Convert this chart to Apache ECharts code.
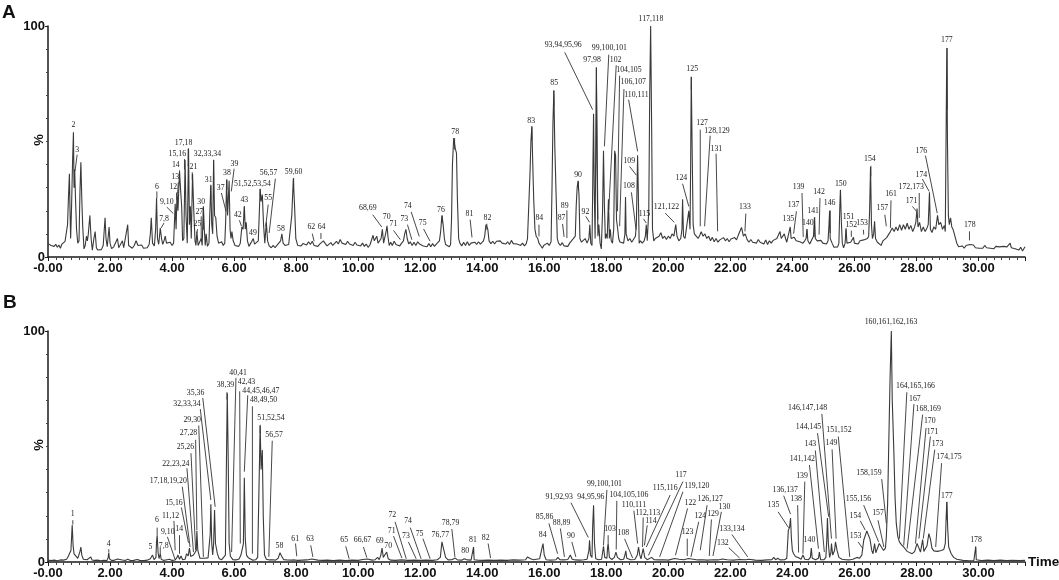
<!DOCTYPE html>
<html><head><meta charset="utf-8">
<script src="https://cdn.jsdelivr.net/npm/echarts@6/dist/echarts.min.js"></script>
<style>html,body{margin:0;padding:0;background:#fff}#c{width:1059px;height:580px}</style>
</head><body><div id="c"></div>
<script>
const traceA1=[[0,5.8],[.05,6.4],[.1,5],[.15,5.8],[.2,4.6],[.25,5.5],[.3,4.2],[.35,5.2],[.4,3.8],[.45,5.6],[.5,5],[.55,6.8],[.6,6],[.63,14],[.66,26],[.69,36],[.71,20],[.73,8],[.76,22],[.79,40],[.82,54],[.84,30],[.86,38],[.89,24],[.92,12],[.96,6],[1,7],[1.03,28],[1.06,41],[1.09,25],[1.12,13],[1.16,3.5],[1.2,5],[1.24,9],[1.27,7],[1.3,10],[1.35,18],[1.39,8],[1.43,3],[1.48,8],[1.52,11],[1.56,4],[1.6,3],[1.66,3.8],[1.72,3.2],[1.78,5],[1.84,17],[1.87,8],[1.91,4.5],[1.97,13],[2,6],[2.05,3.6],[2.12,4.4],[2.18,4],[2.24,8],[2.28,4],[2.34,3.6],[2.4,7],[2.44,4],[2.5,4.4],[2.57,14],[2.6,5],[2.66,4.8],[2.72,3.8],[2.78,5],[2.84,7],[2.9,5],[2.96,4.6],[3.02,5.2],[3.08,3.8],[3.14,4.4],[3.2,4],[3.26,5.4],[3.3,10],[3.33,17],[3.37,6],[3.43,4.8],[3.47,12],[3.5,25.5],[3.53,8],[3.57,5.5],[3.62,12.5],[3.66,8],[3.7,5.5],[3.74,7],[3.78,9],[3.82,6],[3.88,5.4],[3.94,6.4],[4,5]];
const traceA2=[[4.05,6],[4.08,16],[4.1,23],[4.13,12],[4.16,28],[4.19,20],[4.24,37],[4.28,28],[4.31,22],[4.34,7],[4.38,8],[4.42,42],[4.45,18],[4.49,6],[4.53,47],[4.56,14],[4.59,22],[4.62,8],[4.66,36],[4.7,20],[4.74,7],[4.77,5],[4.8,11],[4.84,5],[4.88,5.4],[4.94,8],[4.97,5],[5.01,22],[5.04,12],[5.07,5],[5.1,10],[5.14,4.6],[5.19,6],[5.22,20],[5.25,31],[5.28,14],[5.31,10],[5.34,42],[5.37,18],[5.41,17],[5.45,9],[5.5,6],[5.55,5.4],[5.6,6.6],[5.65,5],[5.7,6],[5.73,16],[5.76,33.5],[5.79,18],[5.84,33],[5.87,12],[5.9,8],[5.93,11],[5.97,7],[6.03,5],[6.09,5.6],[6.15,4.6],[6.2,6],[6.25,13],[6.29,12],[6.33,22],[6.36,12],[6.39,15],[6.43,7],[6.48,4.6],[6.54,5.4],[6.62,8],[6.66,5.6],[6.72,6],[6.78,7],[6.81,18],[6.84,29.5],[6.87,24],[6.91,27],[6.95,14],[6.99,6],[7.04,15],[7.08,7],[7.13,4.8],[7.2,4],[7.26,5],[7.32,4],[7.38,5],[7.44,4.6],[7.5,7],[7.54,10],[7.58,6],[7.64,5],[7.7,4.6],[7.76,5.4],[7.82,5],[7.86,18],[7.91,34],[7.95,22],[7.99,8],[8.05,5]];
const traceA3=[[8.1,5.6],[8.16,4.8],[8.22,5.8],[8.28,6.4],[8.34,5.2],[8.4,6.6],[8.46,5.4],[8.52,6.8],[8.58,5],[8.64,5.8],[8.7,4.6],[8.76,5.6],[8.82,5],[8.88,7],[8.94,5.8],[9,4.8],[9.06,5.6],[9.12,6.2],[9.18,5],[9.24,5.8],[9.3,6.8],[9.36,5.6],[9.42,7.6],[9.48,6],[9.54,6.6],[9.6,5.4],[9.66,6.8],[9.72,5.6],[9.78,6.2],[9.84,5],[9.9,6.4],[9.96,5.2],[10.02,5.8],[10.08,4.8],[10.14,6],[10.2,4.6],[10.26,5.6],[10.32,4.2],[10.38,5.2],[10.44,4.6],[10.48,9.4],[10.52,7],[10.56,7.6],[10.6,9],[10.64,6],[10.7,5.6],[10.74,8],[10.78,12],[10.82,6],[10.86,5.6],[10.9,11],[10.93,13.5],[10.96,9],[11,5],[11.05,6.4],[11.1,5],[11.16,6.8],[11.22,5.4],[11.28,6.2],[11.34,4.8],[11.4,6],[11.46,7],[11.5,10],[11.54,12],[11.58,8],[11.63,5.6],[11.68,6.6],[11.74,5],[11.8,6.4],[11.86,5],[11.92,6.6],[11.98,5.6],[12.04,6.2],[12.1,4.8],[12.16,5.6],[12.22,4.4],[12.28,5.8],[12.34,4.4],[12.4,5.8],[12.46,4.6],[12.52,5.6],[12.58,5],[12.62,7],[12.66,11],[12.7,18],[12.74,14],[12.78,8],[12.82,5.4],[12.88,5],[12.94,4.4],[12.98,5.4],[13.01,16],[13.04,40],[13.08,51.5],[13.13,47],[13.17,45],[13.2,25],[13.24,8],[13.28,6]];
const traceA4=[[13.34,4.8],[13.4,6.4],[13.46,5],[13.52,6.6],[13.58,5],[13.64,6],[13.7,5.2],[13.76,6.4],[13.82,5.4],[13.88,6.6],[13.94,5.6],[14,6.2],[14.04,7],[14.08,9],[14.12,14],[14.15,14.4],[14.18,12],[14.22,7],[14.28,5.8],[14.34,6.8],[14.4,5.6],[14.46,6.8],[14.52,6],[14.58,7],[14.64,6],[14.7,6.8],[14.76,5.6],[14.82,6.6],[14.88,5.4],[14.94,7.2],[15,5.8],[15.06,6.6],[15.12,5.6],[15.18,6.2],[15.24,5],[15.3,6],[15.36,4.8],[15.42,5.8],[15.46,8],[15.5,22],[15.54,36],[15.57,50],[15.6,56.5],[15.63,40],[15.66,25],[15.7,12],[15.74,9],[15.79,8],[15.83,6],[15.88,5],[15.94,3.8],[15.98,5],[16.04,4.4],[16.1,6],[16.16,5],[16.22,6.6],[16.25,30],[16.28,58],[16.31,72],[16.34,48],[16.38,28],[16.42,8],[16.46,6],[16.52,5],[16.58,6.2],[16.64,4.8],[16.7,5.6],[16.76,4.6],[16.82,6],[16.88,7],[16.94,6.4],[17,9],[17.03,22],[17.06,30],[17.09,33],[17.12,27],[17.15,8],[17.2,6.4],[17.26,6],[17.32,8],[17.38,6],[17.44,8],[17.47,14],[17.5,6]];
const traceA5=[[17.54,5],[17.57,40],[17.59,62],[17.61,30],[17.64,8],[17.66,50],[17.68,82],[17.7,40],[17.73,9],[17.76,14],[17.8,6],[17.84,3.5],[17.88,20],[17.91,46],[17.94,22],[17.97,8],[18,10],[18.03,8],[18.07,25],[18.1,8],[18.13,12],[18.16,7],[18.2,6],[18.24,12],[18.27,46],[18.3,44],[18.33,16],[18.36,13],[18.4,8],[18.44,6.5],[18.5,7],[18.56,6],[18.6,10],[18.62,26],[18.64,10],[18.7,7],[18.76,8],[18.82,6.4],[18.88,7],[18.94,9],[18.97,14],[19.01,44],[19.03,30],[19.06,6],[19.1,7],[19.16,6],[19.22,7],[19.26,9],[19.29,14],[19.32,7],[19.34,7],[19.37,20],[19.4,70],[19.43,100],[19.46,60],[19.49,12],[19.53,7],[19.58,8],[19.64,7.5],[19.7,9],[19.76,10.5],[19.82,8],[19.88,9],[19.94,7.6],[20,9],[20.06,8],[20.12,10],[20.18,9],[20.24,14],[20.28,9],[20.34,7],[20.4,8],[20.44,12],[20.46,25],[20.49,9],[20.54,8],[20.6,8],[20.66,20],[20.7,12],[20.72,40],[20.74,78],[20.77,45],[20.8,14],[20.84,10],[20.9,9],[20.96,8],[21.02,9.5],[21.06,11]];
const traceA6=[[21.12,9],[21.18,10],[21.24,8],[21.3,9],[21.36,7],[21.42,8.5],[21.48,6.6],[21.54,8],[21.6,6.4],[21.66,7.4],[21.72,6.6],[21.78,8.4],[21.84,7],[21.9,8],[21.96,6.6],[22.02,7.8],[22.08,7],[22.14,8.4],[22.2,7.4],[22.26,9.6],[22.32,9],[22.36,12.8],[22.42,9],[22.48,10],[22.54,7.5],[22.6,6.4],[22.66,7.6],[22.72,6.4],[22.78,7.2],[22.84,6],[22.9,7.6],[22.96,6.4],[23.02,7],[23.08,5.6],[23.14,7.4],[23.2,5.4],[23.26,7],[23.32,6],[23.38,7.2],[23.44,6.8],[23.5,8],[23.56,7.4],[23.6,11],[23.64,8],[23.7,7.6],[23.74,10],[23.78,8],[23.82,6.4],[23.86,6],[23.93,13],[23.96,8],[24,7.8],[24.06,8.6],[24.12,7],[24.18,7.6],[24.24,6.6],[24.3,7.2],[24.34,6],[24.4,7],[24.44,8],[24.47,12],[24.5,7],[24.56,5.6],[24.62,6.4],[24.68,9],[24.71,17],[24.74,8],[24.8,7],[24.86,6.4],[24.92,7.2],[24.98,6],[25.04,6.6],[25.1,5.6]];
const traceA7=[[25.15,7],[25.18,14],[25.2,20],[25.22,8],[25.28,6],[25.34,4.2],[25.4,5],[25.46,4.4],[25.5,6],[25.53,22],[25.55,29],[25.58,15],[25.61,6],[25.65,4],[25.7,6],[25.73,12],[25.76,6],[25.82,5.2],[25.88,6.4],[25.94,7],[25.97,8.5],[26,6],[26.06,6.6],[26.12,5.6],[26.18,7],[26.24,6.4],[26.3,7.4],[26.36,7],[26.42,8],[26.46,9],[26.49,20],[26.52,39],[26.55,14],[26.58,8],[26.62,10],[26.65,15.5],[26.68,8],[26.74,6.4],[26.8,7],[26.86,5],[26.92,7],[26.98,7.6],[27.04,8.4],[27.1,9],[27.16,11],[27.22,12.6],[27.28,11],[27.34,13],[27.4,11.4],[27.46,14],[27.52,11.6],[27.58,14],[27.64,12],[27.7,14.6],[27.76,12],[27.82,13.6],[27.88,11],[27.94,13],[27.98,15],[28.02,21],[28.05,13],[28.1,15],[28.16,11],[28.22,13],[28.28,11],[28.34,12.6],[28.38,14],[28.42,28],[28.45,12],[28.5,10.6],[28.56,13],[28.62,12],[28.68,18],[28.72,14],[28.78,15],[28.84,12],[28.9,13.6],[28.93,11],[28.96,60],[28.98,90.5],[29,50],[29.03,18],[29.06,14],[29.1,17],[29.14,13],[29.18,12],[29.24,9],[29.3,6],[29.36,4.4],[29.42,3.6],[29.48,4.8],[29.54,3.8],[29.6,5],[29.66,4.4],[29.72,5.4],[29.78,4.6],[29.84,5.2],[29.9,4],[29.96,4.8],[30.02,3.8],[30.08,4.6],[30.14,3.8],[30.2,5],[30.26,4],[30.32,4.8],[30.38,3.8],[30.44,4.6],[30.5,3.6],[30.56,4.6],[30.62,3.8],[30.68,4.4],[30.74,3.6],[30.8,4.6],[30.86,3.8],[30.92,4.4],[30.98,3.6],[31.02,6],[31.06,4],[31.12,4.6],[31.18,3.6],[31.24,4.4],[31.3,3],[31.36,4.2],[31.42,2.6],[31.5,4.4]];
const traceB1=[[0,.8],[.1,.6],[.2,.8],[.3,.5],[.4,.9],[.5,.8],[.6,1.2],[.65,2.4],[.68,3],[.71,2],[.74,5],[.78,16],[.81,7],[.84,3.5],[.9,3],[.96,1.6],[1,2],[1.03,4.5],[1.06,6.5],[1.09,3],[1.14,1.2],[1.2,1.6],[1.26,1],[1.32,1.4],[1.38,2.2],[1.42,.9],[1.5,.7],[1.6,.8],[1.7,.5],[1.8,.7],[1.9,.6],[1.94,2],[1.96,4],[1.98,1.4],[2.06,.6],[2.14,.8],[2.24,1.3],[2.3,.7],[2.4,.9],[2.5,.7],[2.57,1.2],[2.66,.6],[2.76,.7],[2.88,1.1],[2.96,.7],[3.02,1.1],[3.1,.6],[3.2,.8],[3.3,1.4],[3.37,3],[3.42,1],[3.48,2],[3.5,9],[3.52,11.6],[3.55,4],[3.58,1.5],[3.62,3.6],[3.65,1.2],[3.72,.7],[3.8,.9],[3.92,1.2],[4,.7]];
const traceB2=[[4.1,.9],[4.16,2],[4.19,3],[4.24,1.2],[4.29,2.6],[4.34,1],[4.42,1.2],[4.47,3.6],[4.52,2.6],[4.56,6],[4.6,2.4],[4.66,2],[4.69,3],[4.74,2.2],[4.78,5],[4.8,13.5],[4.83,5],[4.87,5],[4.9,1.6],[4.96,1.2],[5.02,1.6],[5.08,1.1],[5.16,1.8],[5.2,1.6],[5.23,12],[5.25,25],[5.28,8],[5.31,3],[5.34,8],[5.37,22.5],[5.4,8],[5.46,3.6],[5.52,1.4],[5.6,1],[5.66,1],[5.72,3],[5.75,40],[5.78,73],[5.81,45],[5.84,8],[5.88,2.5],[5.96,1],[6.06,.9],[6.16,1.3],[6.22,3],[6.27,6],[6.3,8],[6.33,36.5],[6.36,10],[6.4,3],[6.46,1.8],[6.52,1],[6.6,.8],[6.7,1],[6.76,2],[6.8,30],[6.84,59],[6.87,40],[6.91,48.5],[6.94,20],[6.98,3],[7.04,1.2],[7.14,.9],[7.24,1],[7.34,.8],[7.42,1.6],[7.48,4],[7.53,2.6],[7.6,1],[7.7,.9],[7.75,1.4],[7.85,.8],[7.95,.9],[8.05,.7]];
const traceB3=[[8.2,.8],[8.35,.9],[8.5,1.3],[8.56,1.4],[8.7,.8],[8.85,.7],[9,.8],[9.2,.6],[9.4,.8],[9.6,.6],[9.8,.8],[10,.7],[10.15,1.1],[10.3,1.3],[10.45,.8],[10.55,1],[10.63,2],[10.68,1],[10.73,3],[10.77,6],[10.81,2],[10.86,1.4],[10.92,4.3],[10.97,1.4],[11.05,.8],[11.2,.7],[11.4,.9],[11.6,.7],[11.8,.8],[12,.7],[12.2,.8],[12.4,.7],[12.55,1],[12.65,2],[12.7,8.7],[12.76,8],[12.82,2],[12.9,.9],[13.02,1],[13.13,1.7],[13.2,.9],[13.35,.8],[13.42,1.4],[13.46,2],[13.52,.9],[13.64,.8],[13.7,1.6],[13.72,6.5],[13.74,1],[13.85,.8],[14,.7],[14.2,.8],[14.4,.7],[14.6,.8],[14.8,.7],[15,.9],[15.2,.8],[15.4,1],[15.46,2.2],[15.5,3],[15.56,1.4],[15.65,1],[15.75,1.2],[15.85,1.4],[15.91,5],[15.96,8],[16,3],[16.06,1],[16.2,.8],[16.38,1],[16.44,2],[16.5,1],[16.62,.9],[16.76,1.1],[16.84,3],[16.9,1.2],[17,.9],[17.14,.8],[17.28,1],[17.38,1.2],[17.44,5],[17.46,9.4],[17.49,3],[17.54,2],[17.56,15],[17.59,24.6],[17.62,8],[17.66,1.4],[17.75,1],[17.85,1.2],[17.88,4],[17.91,6.8],[17.95,2],[18.02,1.6],[18.04,6],[18.06,8],[18.1,2],[18.18,1.1],[18.26,2],[18.31,4.3],[18.36,2],[18.46,1],[18.56,1.2],[18.6,3],[18.63,4.8],[18.66,1.6],[18.78,1],[18.92,1.1],[19,3],[19.04,6.5],[19.08,3],[19.12,1.4],[19.16,4],[19.19,5.8],[19.24,2],[19.32,1],[19.46,2],[19.54,1],[19.7,.9],[19.85,1]];
const traceB4=[[20,.8],[20.2,1.5],[20.35,1.2],[20.5,1],[20.65,1.5],[20.8,1.2],[20.95,.9],[21.1,1],[21.25,.8],[21.45,1],[21.6,.9],[21.75,1.3],[21.9,1],[22.1,.8],[22.3,1.1],[22.5,1],[22.6,1.2],[22.8,.8],[23,.7],[23.2,.9],[23.34,1],[23.4,2],[23.46,1],[23.53,1.6],[23.6,.9],[23.75,1],[23.82,1.6],[23.87,13.8],[23.91,15],[23.94,19],[23.97,10],[24,5],[24.04,3.6],[24.1,2.4],[24.2,1.8],[24.28,1.2],[24.34,3],[24.4,1.2],[24.52,1],[24.58,2],[24.61,6],[24.64,1.6],[24.75,1],[24.84,1.6],[24.87,4.3],[24.91,1],[25.02,1],[25.08,2],[25.11,10],[25.13,19],[25.16,8],[25.2,2],[25.24,4],[25.26,8],[25.3,3],[25.36,5],[25.39,8.7],[25.44,5],[25.5,2],[25.6,1.2],[25.72,1],[25.82,.9],[25.95,1.2]];
const traceB5=[[26.08,2],[26.16,1.6],[26.24,3],[26.3,9.4],[26.34,9],[26.4,13.5],[26.44,12],[26.5,10],[26.56,5],[26.6,3.6],[26.65,8],[26.69,4],[26.73,3.6],[26.8,8],[26.86,7.2],[26.94,5],[27,6],[27.03,11],[27.07,25],[27.1,45.6],[27.15,80],[27.19,100],[27.22,70],[27.27,48.5],[27.31,28],[27.35,16.7],[27.4,11],[27.45,8.7],[27.52,7.4],[27.59,6.5],[27.7,4.6],[27.86,3.6],[27.94,4.5],[28.02,8],[28.08,6],[28.13,4.3],[28.17,5],[28.2,9.7],[28.24,4.6],[28.29,4],[28.34,7],[28.4,12.3],[28.45,10],[28.5,6],[28.56,4.8],[28.68,4.6],[28.8,5],[28.88,5.4],[28.93,8],[28.96,20],[28.98,26],[29.01,14],[29.04,6.5],[29.12,3.6],[29.2,2],[29.3,1.2],[29.5,.7],[29.7,.5],[29.85,.6],[29.89,1],[29.91,6.5],[29.93,1],[30.1,.6],[30.3,.8],[30.5,.6],[30.7,.8],[30.9,.6],[31.1,.7],[31.3,.6],[31.5,.7]];
// label, text time, text %, leader start time, start %, leader end time, end %
const labelsA1=[["2",.82,57.3],["3",.94,46.2,.94,44.3,.87,37.1],["6",3.51,30.2,3.51,28.4,3.51,25.5],["7,8",3.74,16.6,3.74,14.7,3.65,12.6],["9,10",3.83,23.7,3.83,21.6,4.04,18.8],["12",4.04,30.2,4.15,27.7,4.15,24.8],["13",4.1,34.5,4.2,32.3,4.18,27.7],["14",4.12,40,4.24,37.5,4.24,34.9],["15,16",4.17,44.6,4.4,42.4,4.4,37.8],["17,18",4.37,49.5,4.52,46.9,4.52,39.2],["21",4.69,39.2,4.65,36.7,4.65,33.5],["25",4.82,14.3,4.82,12.1,4.8,10.4],["27",4.88,19.5,4.94,17.6,4.94,7.5],["30",4.94,23.7,5.01,21.6,5.01,11.8],["31",5.18,33.5,5.25,31.3,5.25,24.8],["32,33,34",5.14,44.7,5.34,42.1,5.34,33.5],["37",5.57,29.7,5.59,27.7,5.74,19.8],["38",5.77,36.2,5.77,33.5,5.77,29.1],["39",6.01,40.4,6,38.2,5.91,28.4],["43",6.33,24.5,6.33,21.9,6.33,17.6],["42",6.12,18.2,6.17,15.9,6.24,13.3],["49",6.61,10.5],["51,52,53,54",6.59,31.5,6.84,29.4,6.84,26.3],["56,57",7.11,36.2,7.33,33.9,7.13,10.4],["55",7.1,25.4,7.1,22.7,7.02,13.3],["58",7.51,12],["59,60",7.92,36.8,7.92,34.2,7.92,30.6],["62",8.49,12.8,8.52,10.1,8.58,6.8],["64",8.82,13.1,8.8,10.4,8.8,7.8]];
const labelsA2=[["68,69",10.31,21.4,10.47,18.3,10.76,13],["70",10.92,17.3],["71",11.14,14.1,11.14,11.5,11.36,7.5],["73",11.49,16.6,11.59,14,11.73,7.5],["74",11.6,21.9,11.71,19.5,11.97,8.9],["75",12.08,14.7,12.11,12.1,12.32,6.8],["76",12.67,20.5,12.71,17.9,12.71,14.7],["78",13.13,54.3,13.11,51.5,13.11,46.5],["81",13.59,18.8,13.61,16.2,13.67,8.5],["82",14.17,16.9,14.15,14.4,14.15,11.8],["83",15.58,59,15.6,56.6,15.6,50.8],["84",15.84,17,15.83,14,15.83,8.9],["85",16.32,75.3,16.31,72.2,16.31,65.2],["87",16.56,17,16.59,14.3,16.64,8.7],["89",16.66,22.2,16.73,20.2,16.73,8.2],["90",17.09,35.6,17.1,32.8,17.1,29.1],["92",17.33,19.5,17.34,17.6,17.46,15],["93,94,95,96",16.61,91.9,16.66,88.6,17.56,63.8],["97,98",17.54,85.4,17.68,82.1,17.73,16.2],["99,100,101",18.1,90.3,18.08,87.6,17.94,47.9],["102",18.3,85.4,18.32,83,18.08,20.5],["104,105",18.73,81.1,18.43,78.5,18.36,19.8],["106,107",18.87,75.6,18.57,72.7,18.43,13.3],["110,111",18.97,70.1,18.72,68.1,19.01,45.7],["109",18.74,41.6,18.75,39.2,18.97,35.4],["108",18.73,30.6,18.81,28,18.96,11.8],["115",19.23,18.8,19.2,16.5,19.29,14.7],["117,118",19.44,103.2],["125",20.77,81.2,20.74,77.9,20.74,72.4],["124",20.42,34.3,20.46,31.7,20.66,21.9],["121,122",19.94,21.8,19.9,19,20.19,15]];
const labelsA3=[["127",21.09,57.9,21.03,55.1,21.03,13.3],["128,129",21.57,54.5,21.35,52.5,21.17,13.3],["131",21.55,46.9,21.54,44.7,21.59,11.1],["133",22.47,21.5,22.5,18.8,22.47,11.1],["135",23.87,16.3],["137",24.04,22.7,24.13,19.8,24.04,10.1],["139",24.2,30.2,24.31,27.7,24.35,8.7],["140",24.5,14.7,24.47,12.1,24.47,8.2],["141",24.67,19.8,24.72,17.3,24.72,8.7],["142",24.86,28,24.89,25.5,24.86,9.7],["146",25.2,23.4,25.22,20.2,25.22,10.4],["150",25.56,31.7,25.55,29.1,25.55,24.8],["151",25.81,17.2,25.73,12.6,25.73,8.7],["152",25.9,13.7,25.9,11.4,25.9,8.7],["153",26.25,14.6,26.29,11.8,26.3,9.7],["154",26.5,42.6,26.53,39.5,26.53,34.9],["157",26.9,21.4,26.98,18.3,27.03,13.3],["161",27.18,27.4,27.18,24.5,27.16,12.6],["171",27.84,24.2,27.87,21.9,28,19.8],["172,173",27.83,30.4,28.09,27.7,28.09,16.9],["174",28.16,35.6,28.19,33.8,28.41,28.4],["176",28.16,46,28.29,43.9,28.67,19],["177",28.98,93.8,28.99,90.5,28.99,63.8],["178",29.72,13.9,29.71,11.1,29.71,7.2]];
const labelsB1=[["1",.8,20.9,.8,18.1,.8,16.2],["4",1.96,7.7,1.96,5.5,1.96,4.1],["5",3.3,6.4],["6",3.51,18.3,3.52,14.9,3.52,11.6],["7,8",3.73,7,3.62,6.2,3.62,3.6],["9,10",3.86,13.2,3.85,10.9,4.1,1],["11,12",3.95,20.1,4.06,17.8,4.1,5.1],["14",4.23,14.2,4.24,11.6,4.24,3.6],["15,16",4.06,25.4,4.3,23.6,4.53,8.3],["17,18,19,20",3.88,35.2,4.33,32.6,4.58,6.5],["22,23,24",4.12,42.6,4.48,40.6,4.69,4.3],["25,26",4.43,49.6,4.61,47.1,4.76,5.1],["27,28",4.53,55.9,4.76,52.9,4.8,13.8],["29,30",4.65,61.3,4.86,59.1,5.01,2.2],["32,33,34",4.48,68.6,4.91,66.2,5.25,26.8],["35,36",4.76,73.3,4.99,71,5.39,23.9],["38,39",5.72,76.5,5.77,73.5,5.77,70.3],["40,41",6.13,82,6.06,79.7,5.92,4.3],["42,43",6.4,77.8,6.18,73.9,6.2,8],["44,45,46,47",6.86,74.2,6.44,72.2,6.33,39.1],["48,49,50",6.95,70,6.59,67.4,6.59,3.6],["51,52,54",7.19,62.3,6.84,59.4,6.84,55.8],["56,57",7.29,55.1,7.23,52.5,7.12,2.2],["58",7.46,7],["61",7.97,9.9,7.98,8,8.02,2.5],["63",8.45,9.9,8.47,7.2,8.54,2.2],["65",9.55,9.4,9.6,6.8,9.71,1.4]];
const labelsB2=[["66,67",10.14,9.4,10.17,6.5,10.28,1.9],["69",10.7,9],["70",10.97,6.8],["71",11.08,13.3,11.14,11.2,11.41,1.7],["72",11.1,20.3,11.19,17.4,11.55,1.4],["73",11.54,11.2,11.62,8.7,11.87,1.4],["74",11.61,17.7,11.68,14.9,12.03,1.4],["75",11.98,12.2,12.09,10.1,12.32,1.4],["76,77",12.65,11.9],["78,79",12.98,16.7,13.02,14.3,13.12,2.2],["80",13.45,4.6],["81",13.7,9.4,13.72,6.5,13.72,3.6],["82",14.11,10.3,14.19,8,14.27,1.7],["84",15.95,11.6],["85,86",16.01,19.6,16.15,16.7,16.43,3.6],["88,89",16.56,17.1,16.52,14.5,16.65,2.2],["90",16.86,11.2,16.89,8.7,17.02,2.2],["91,92,93",16.48,28.3,16.86,25.7,17.42,10.6],["94,95,96",17.5,28.3],["99,100,101",17.94,33.9,18.02,31.2,17.91,7.2],["103",18.12,14.1,18.06,11.6,18.06,8],["104,105,106",18.73,29.1,18.34,26.5,18.32,5.4],["108",18.55,12.5,18.59,10,18.85,1.7],["110,111",18.89,24.8,18.89,22.2,19.01,8],["112,113",19.34,21.3,19.19,19.3,19.17,6.5],["114",19.44,17.8,19.32,15.9,19.23,7.2],["115,116",19.9,31.9,20.06,29,19.29,6.5],["117",20.41,37.5,20.47,34.8,19.36,2.9],["119,120",20.92,32.9,20.47,30.4,19.72,2.2],["122",20.71,25.7,20.62,23.2,20.23,2.9],["123",20.62,13,20.61,10.1,20.61,2.6],["124",21.03,20.1,20.98,17.4,20.73,2.2]];
const labelsB3=[["126,127",21.35,27.1,21.25,24.6,21.03,5.1],["129",21.44,21,21.39,18.4,21.32,2.6],["130",21.81,23.9,21.71,21.7,21.44,2.6],["133,134",22.05,14.2,22.05,11.9,22.56,2.2],["132",21.76,8.4,21.95,6.2,22.3,1.7],["135",23.39,24.6,23.54,21.7,23.88,14.8],["136,137",23.77,31.4,23.72,28.7,23.94,20.7],["138",24.12,27.2,24.17,24.6,24.2,4.1],["139",24.31,37.4,24.4,34.8,24.34,3.6],["140",24.55,9.6],["141,142",24.32,44.5,24.55,42,24.84,5.8],["143",24.58,51,24.74,48.3,25.03,4.3],["144,145",24.52,58.4,24.81,55.8,25.17,19.6],["146,147,148",24.49,66.5,24.95,64.1,25.26,10.1],["149",25.26,51.7,25.28,48.8,25.41,10.1],["151,152",25.5,57,25.48,54.3,25.85,2.2],["153",26.04,11.2,26.12,8.7,26.27,5.8],["154",26.03,20.1,26.19,17.8,26.35,13.8],["155,156",26.13,27.2,26.3,24.6,26.78,8.7],["157",26.76,21.2,26.76,18.1,26.95,6.5],["158,159",26.47,38.6,26.88,35.9,27.03,16.7],["160,161,162,163",27.18,103.8],["164,165,166",27.97,76.4,27.69,73.5,27.45,10.1],["167",27.95,70.7,27.92,68.4,27.59,7.2],["168,169",28.38,66.4,28.2,63.8,27.7,5.8],["170",28.43,60.9,28.31,58,27.97,8],["171",28.52,56.5,28.45,54.3,28.08,10.1],["173",28.68,51,28.59,48.6,28.22,10.1],["174,175",29.05,45.5,28.81,42.8,28.62,6.5],["177",28.98,28.8,28.98,26.1,28.98,18.1],["178",29.92,9.6,29.91,6.8,29.91,4.3]];
const traceA=[].concat(traceA1,traceA2,traceA3,traceA4,traceA5,traceA6,traceA7);
const traceB=[].concat(traceB1,traceB2,traceB3,traceB4,traceB5);
const labelsA=[].concat(labelsA1,labelsA2,labelsA3);
const labelsB=[].concat(labelsB1,labelsB2,labelsB3);

const AX='#1a1a1a', TRACE='#3a3a3a';
function xAx(gi,name){return {type:'value',gridIndex:gi,min:0,max:31.5,interval:2,boundaryGap:[0,0],
  name:name||'',nameLocation:'end',nameGap:3,nameTextStyle:{fontFamily:'Liberation Sans',fontWeight:'bold',fontSize:13.5,color:'#111',verticalAlign:'middle',align:'left',padding:[4,0,0,0]},
  axisLine:{show:true,onZero:false,lineStyle:{color:AX,width:1.5}},
  axisTick:{show:true,length:4,inside:false,lineStyle:{color:AX,width:1}},
  minorTick:{show:true,splitNumber:8,length:3,lineStyle:{color:'#444',width:1}},
  splitLine:{show:false},minorSplitLine:{show:false},
  axisLabel:{show:true,margin:5,hideOverlap:false,fontFamily:'Liberation Sans',fontWeight:'bold',fontSize:13,color:'#111',
    formatter:v=>v>31?'':(v===0?'-0.00':v.toFixed(2))}};}
function yAx(gi){return {type:'value',gridIndex:gi,min:0,max:100,interval:100,
  axisLine:{show:true,onZero:false,lineStyle:{color:AX,width:1.5}},
  axisTick:{show:true,length:3,lineStyle:{color:AX,width:1}},
  minorTick:{show:true,splitNumber:10,length:2,lineStyle:{color:'#444',width:1}},
  splitLine:{show:false},minorSplitLine:{show:false},
  axisLabel:{margin:3,fontFamily:'Liberation Sans',fontWeight:'bold',fontSize:13,color:'#111'}};}
function pct(y){return {type:'text',x:39,y:y,rotation:Math.PI/2,silent:true,style:{text:'%',align:'center',verticalAlign:'middle',font:'bold 13px "Liberation Sans"',fill:'#111'}};}
function traceSeries(gi,d){return {type:'line',xAxisIndex:gi,yAxisIndex:gi,data:d,showSymbol:false,symbol:'none',sampling:'none',smooth:false,clip:false,silent:true,lineStyle:{color:TRACE,width:1.1}};}
function labelSeries(gi,rows){return {type:'custom',xAxisIndex:gi,yAxisIndex:gi,clip:false,silent:true,z:5,
  data:rows.map(r=>[r[1],r[2]]),
  renderItem:(p,api)=>{const r=rows[p.dataIndex],c=api.coord([r[1],r[2]]),kids=[{type:'text',style:{text:r[0],x:c[0],y:c[1],align:'center',verticalAlign:'middle',font:'7.8px "Liberation Serif"',fill:'#1a1a1a'}}];
    if(r.length>3){const a=api.coord([r[3],r[4]]),b=api.coord([r[5],r[6]]);kids.push({type:'line',shape:{x1:a[0],y1:a[1],x2:b[0],y2:b[1]},style:{stroke:'#333',lineWidth:.9}});}
    return {type:'group',children:kids};}};}
const chart=echarts.init(document.getElementById('c'),null,{renderer:'canvas'});
chart.setOption({animation:false,backgroundColor:'#fff',
  title:[{text:'A',left:2,top:3,padding:0,textStyle:{fontFamily:'Liberation Sans',fontWeight:'bold',fontSize:19,color:'#111'}},
         {text:'B',left:3,top:293,padding:0,textStyle:{fontFamily:'Liberation Sans',fontWeight:'bold',fontSize:19,color:'#111'}}],
  graphic:[pct(140),pct(445)],
  grid:[{left:48,top:26,width:977,height:231,outerBoundsMode:'none',containLabel:false},{left:48,top:331,width:977,height:231,outerBoundsMode:'none',containLabel:false}],
  xAxis:[xAx(0),xAx(1,'Time')],yAxis:[yAx(0),yAx(1)],
  series:[traceSeries(0,traceA),traceSeries(1,traceB),labelSeries(0,labelsA),labelSeries(1,labelsB)]});
</script></body></html>
